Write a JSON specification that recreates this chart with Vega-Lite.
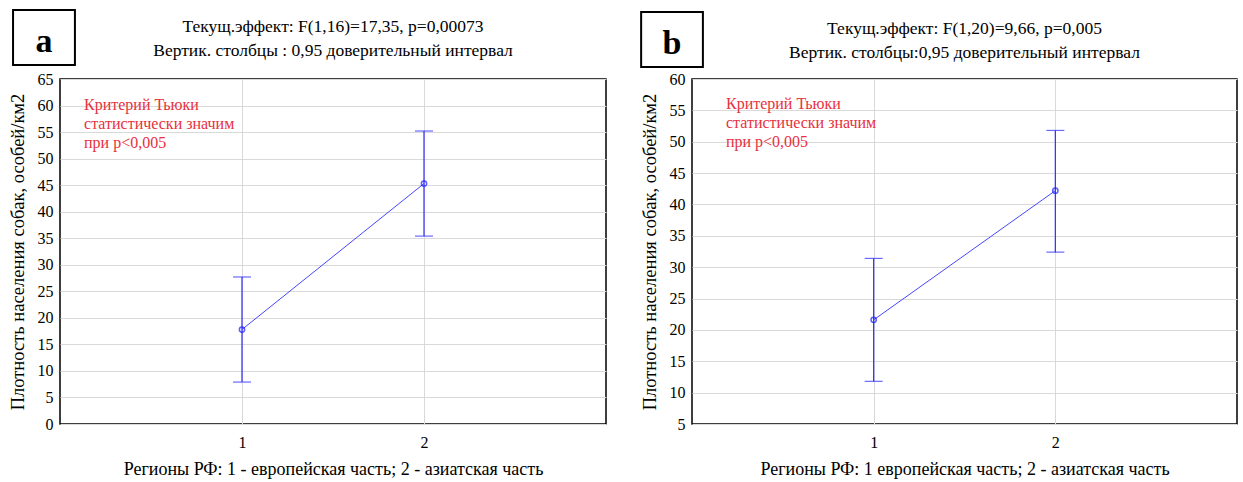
{
  "$schema": "https://vega.github.io/schema/vega-lite/v6.json",
  "autosize": {"type": "pad"},
  "padding": {"left": 7, "top": 8, "right": 5, "bottom": 5},
  "background": "white",
  "spacing": 86,
  "bounds": "flush",
  "config": {
    "font": "Liberation Serif",
    "view": {"stroke": "black", "strokeWidth": 1.5},
    "axis": {
      "labelFont": "Liberation Serif", "labelFontSize": 16, "labelColor": "black",
      "titleFont": "Liberation Serif", "titleFontWeight": "normal", "titleColor": "black",
      "gridColor": "#d9d9d9", "gridWidth": 1, "domain": false, "ticks": false
    },
    "title": {"font": "Liberation Serif", "fontSize": 17.5, "fontWeight": "normal", "color": "black", "lineHeight": 24, "offset": -50, "anchor": "middle", "frame": "group"}
  },
  "datasets": {
    "a": [
      {"region": 1, "mean": 17.8, "lo": 7.9, "hi": 27.7},
      {"region": 2, "mean": 45.3, "lo": 35.4, "hi": 55.2}
    ],
    "b": [
      {"region": 1, "mean": 21.6, "lo": 11.8, "hi": 31.4},
      {"region": 2, "mean": 42.2, "lo": 32.4, "hi": 51.8}
    ],
    "labA": [{"letter": "a", "note": ["Критерий Тьюки", "статистически значим", "при p<0,005"]}],
    "labB": [{"letter": "b", "note": ["Критерий Тьюки", "статистически значим", "при p<0,005"]}]
  },
  "hconcat": [
    {
      "width": 546, "height": 345,
      "title": {"text": ["Текущ.эффект: F(1,16)=17,35, p=0,00073\u2003\u2003\u2003", "Вертик. столбцы : 0,95 доверительный интервал"], "font": "Liberation Serif", "fontSize": 17.5},
      "layer": [
        {
          "data": {"name": "a"},
          "mark": {"type": "line", "color": "#4646ff", "strokeWidth": 1},
          "encoding": {
            "x": {"field": "region", "type": "quantitative", "scale": {"domain": [0, 3], "nice": false}, "title": "Регионы РФ: 1 - европейская часть; 2 - азиатская часть",
              "axis": {"values": [1, 2], "format": "d", "labelPadding": 10, "labelFont": "Liberation Serif", "titleFont": "Liberation Serif", "titleFontSize": 18, "titlePadding": 10}},
            "y": {"field": "mean", "type": "quantitative", "scale": {"domain": [0, 65], "nice": false, "zero": false}, "title": "Плотность населения собак, особей/км2",
              "axis": {"values": [0,5,10,15,20,25,30,35,40,45,50,55,60,65], "labelPadding": 7, "labelFont": "Liberation Serif", "titleFont": "Liberation Serif", "titleFontSize": 18.5, "titlePadding": 10}}
          }
        },
        {
          "data": {"name": "a"},
          "mark": {"type": "rule", "color": "#2a2aff", "strokeWidth": 1.2},
          "encoding": {
            "x": {"field": "region", "type": "quantitative", "title": "Регионы РФ: 1 - европейская часть; 2 - азиатская часть",
              "axis": {"values": [1, 2], "format": "d", "labelPadding": 10, "labelFont": "Liberation Serif", "titleFont": "Liberation Serif", "titleFontSize": 18, "titlePadding": 10}},
            "y": {"field": "lo", "type": "quantitative", "title": "Плотность населения собак, особей/км2",
              "axis": {"values": [0,5,10,15,20,25,30,35,40,45,50,55,60,65], "labelPadding": 7, "labelFont": "Liberation Serif", "titleFont": "Liberation Serif", "titleFontSize": 18.5, "titlePadding": 10}},
            "y2": {"field": "hi"}
          }
        },
        {
          "data": {"name": "a"},
          "mark": {"type": "tick", "orient": "horizontal", "color": "#2a2aff", "size": 18, "thickness": 1.2},
          "encoding": {
            "x": {"field": "region", "type": "quantitative", "title": "Регионы РФ: 1 - европейская часть; 2 - азиатская часть",
              "axis": {"values": [1, 2], "format": "d", "labelPadding": 10, "labelFont": "Liberation Serif", "titleFont": "Liberation Serif", "titleFontSize": 18, "titlePadding": 10}},
            "y": {"field": "lo", "type": "quantitative", "title": "Плотность населения собак, особей/км2",
              "axis": {"values": [0,5,10,15,20,25,30,35,40,45,50,55,60,65], "labelPadding": 7, "labelFont": "Liberation Serif", "titleFont": "Liberation Serif", "titleFontSize": 18.5, "titlePadding": 10}}
          }
        },
        {
          "data": {"name": "a"},
          "mark": {"type": "tick", "orient": "horizontal", "color": "#2a2aff", "size": 18, "thickness": 1.2},
          "encoding": {
            "x": {"field": "region", "type": "quantitative", "title": "Регионы РФ: 1 - европейская часть; 2 - азиатская часть",
              "axis": {"values": [1, 2], "format": "d", "labelPadding": 10, "labelFont": "Liberation Serif", "titleFont": "Liberation Serif", "titleFontSize": 18, "titlePadding": 10}},
            "y": {"field": "hi", "type": "quantitative", "title": "Плотность населения собак, особей/км2",
              "axis": {"values": [0,5,10,15,20,25,30,35,40,45,50,55,60,65], "labelPadding": 7, "labelFont": "Liberation Serif", "titleFont": "Liberation Serif", "titleFontSize": 18.5, "titlePadding": 10}}
          }
        },
        {
          "data": {"name": "a"},
          "mark": {"type": "point", "shape": "circle", "filled": false, "color": "#1a1aff", "size": 28, "strokeWidth": 1.5},
          "encoding": {
            "x": {"field": "region", "type": "quantitative", "title": "Регионы РФ: 1 - европейская часть; 2 - азиатская часть",
              "axis": {"values": [1, 2], "format": "d", "labelPadding": 10, "labelFont": "Liberation Serif", "titleFont": "Liberation Serif", "titleFontSize": 18, "titlePadding": 10}},
            "y": {"field": "mean", "type": "quantitative", "title": "Плотность населения собак, особей/км2",
              "axis": {"values": [0,5,10,15,20,25,30,35,40,45,50,55,60,65], "labelPadding": 7, "labelFont": "Liberation Serif", "titleFont": "Liberation Serif", "titleFontSize": 18.5, "titlePadding": 10}}
          }
        },
        {
          "data": {"name": "labA"},
          "mark": {"type": "text", "align": "left", "baseline": "top", "color": "#e8313c", "font": "Liberation Serif", "fontSize": 16, "lineHeight": 19},
          "encoding": {
            "x": {"datum": 0.132, "type": "quantitative", "title": "Регионы РФ: 1 - европейская часть; 2 - азиатская часть",
              "axis": {"values": [1, 2], "format": "d", "labelPadding": 10, "labelFont": "Liberation Serif", "titleFont": "Liberation Serif", "titleFontSize": 18, "titlePadding": 10}},
            "y": {"datum": 61.6, "type": "quantitative", "title": "Плотность населения собак, особей/км2",
              "axis": {"values": [0,5,10,15,20,25,30,35,40,45,50,55,60,65], "labelPadding": 7, "labelFont": "Liberation Serif", "titleFont": "Liberation Serif", "titleFontSize": 18.5, "titlePadding": 10}},
            "text": {"field": "note"}
          }
        },
        {
          "data": {"name": "labA"},
          "mark": {"type": "rect", "fill": "white", "stroke": "black", "strokeWidth": 2, "clip": false},
          "encoding": {
            "x": {"datum": -0.258, "type": "quantitative", "title": "Регионы РФ: 1 - европейская часть; 2 - азиатская часть",
              "axis": {"values": [1, 2], "format": "d", "labelPadding": 10, "labelFont": "Liberation Serif", "titleFont": "Liberation Serif", "titleFontSize": 18, "titlePadding": 10}},
            "x2": {"datum": 0.082},
            "y": {"datum": 78.0, "type": "quantitative", "title": "Плотность населения собак, особей/км2",
              "axis": {"values": [0,5,10,15,20,25,30,35,40,45,50,55,60,65], "labelPadding": 7, "labelFont": "Liberation Serif", "titleFont": "Liberation Serif", "titleFontSize": 18.5, "titlePadding": 10}},
            "y2": {"datum": 67.64}
          }
        },
        {
          "data": {"name": "labA"},
          "mark": {"type": "text", "align": "center", "baseline": "alphabetic", "color": "black", "font": "Liberation Serif", "fontSize": 34, "fontWeight": "bold"},
          "encoding": {
            "x": {"datum": -0.088, "type": "quantitative", "title": "Регионы РФ: 1 - европейская часть; 2 - азиатская часть",
              "axis": {"values": [1, 2], "format": "d", "labelPadding": 10, "labelFont": "Liberation Serif", "titleFont": "Liberation Serif", "titleFontSize": 18, "titlePadding": 10}},
            "y": {"datum": 70.09, "type": "quantitative", "title": "Плотность населения собак, особей/км2",
              "axis": {"values": [0,5,10,15,20,25,30,35,40,45,50,55,60,65], "labelPadding": 7, "labelFont": "Liberation Serif", "titleFont": "Liberation Serif", "titleFontSize": 18.5, "titlePadding": 10}},
            "text": {"field": "letter"}
          }
        }
      ]
    },
    {
      "width": 545, "height": 345,
      "title": {"text": ["Текущ.эффект: F(1,20)=9,66, p=0,005\u2003\u2003\u2003", "Вертик. столбцы:0,95 доверительный интервал"], "font": "Liberation Serif", "fontSize": 17.5},
      "layer": [
        {
          "data": {"name": "b"},
          "mark": {"type": "line", "color": "#4646ff", "strokeWidth": 1},
          "encoding": {
            "x": {"field": "region", "type": "quantitative", "scale": {"domain": [0, 3], "nice": false}, "title": "Регионы РФ: 1 европейская часть; 2 - азиатская часть",
              "axis": {"values": [1, 2], "format": "d", "labelPadding": 10, "labelFont": "Liberation Serif", "titleFont": "Liberation Serif", "titleFontSize": 18, "titlePadding": 10}},
            "y": {"field": "mean", "type": "quantitative", "scale": {"domain": [5, 60], "nice": false, "zero": false}, "title": "Плотность населения собак, особей/км2",
              "axis": {"values": [5,10,15,20,25,30,35,40,45,50,55,60], "labelPadding": 7, "labelFont": "Liberation Serif", "titleFont": "Liberation Serif", "titleFontSize": 18.5, "titlePadding": 10}}
          }
        },
        {
          "data": {"name": "b"},
          "mark": {"type": "rule", "color": "#2a2aff", "strokeWidth": 1.2},
          "encoding": {
            "x": {"field": "region", "type": "quantitative", "title": "Регионы РФ: 1 европейская часть; 2 - азиатская часть",
              "axis": {"values": [1, 2], "format": "d", "labelPadding": 10, "labelFont": "Liberation Serif", "titleFont": "Liberation Serif", "titleFontSize": 18, "titlePadding": 10}},
            "y": {"field": "lo", "type": "quantitative", "title": "Плотность населения собак, особей/км2",
              "axis": {"values": [5,10,15,20,25,30,35,40,45,50,55,60], "labelPadding": 7, "labelFont": "Liberation Serif", "titleFont": "Liberation Serif", "titleFontSize": 18.5, "titlePadding": 10}},
            "y2": {"field": "hi"}
          }
        },
        {
          "data": {"name": "b"},
          "mark": {"type": "tick", "orient": "horizontal", "color": "#2a2aff", "size": 18, "thickness": 1.2},
          "encoding": {
            "x": {"field": "region", "type": "quantitative", "title": "Регионы РФ: 1 европейская часть; 2 - азиатская часть",
              "axis": {"values": [1, 2], "format": "d", "labelPadding": 10, "labelFont": "Liberation Serif", "titleFont": "Liberation Serif", "titleFontSize": 18, "titlePadding": 10}},
            "y": {"field": "lo", "type": "quantitative", "title": "Плотность населения собак, особей/км2",
              "axis": {"values": [5,10,15,20,25,30,35,40,45,50,55,60], "labelPadding": 7, "labelFont": "Liberation Serif", "titleFont": "Liberation Serif", "titleFontSize": 18.5, "titlePadding": 10}}
          }
        },
        {
          "data": {"name": "b"},
          "mark": {"type": "tick", "orient": "horizontal", "color": "#2a2aff", "size": 18, "thickness": 1.2},
          "encoding": {
            "x": {"field": "region", "type": "quantitative", "title": "Регионы РФ: 1 европейская часть; 2 - азиатская часть",
              "axis": {"values": [1, 2], "format": "d", "labelPadding": 10, "labelFont": "Liberation Serif", "titleFont": "Liberation Serif", "titleFontSize": 18, "titlePadding": 10}},
            "y": {"field": "hi", "type": "quantitative", "title": "Плотность населения собак, особей/км2",
              "axis": {"values": [5,10,15,20,25,30,35,40,45,50,55,60], "labelPadding": 7, "labelFont": "Liberation Serif", "titleFont": "Liberation Serif", "titleFontSize": 18.5, "titlePadding": 10}}
          }
        },
        {
          "data": {"name": "b"},
          "mark": {"type": "point", "shape": "circle", "filled": false, "color": "#1a1aff", "size": 28, "strokeWidth": 1.5},
          "encoding": {
            "x": {"field": "region", "type": "quantitative", "title": "Регионы РФ: 1 европейская часть; 2 - азиатская часть",
              "axis": {"values": [1, 2], "format": "d", "labelPadding": 10, "labelFont": "Liberation Serif", "titleFont": "Liberation Serif", "titleFontSize": 18, "titlePadding": 10}},
            "y": {"field": "mean", "type": "quantitative", "title": "Плотность населения собак, особей/км2",
              "axis": {"values": [5,10,15,20,25,30,35,40,45,50,55,60], "labelPadding": 7, "labelFont": "Liberation Serif", "titleFont": "Liberation Serif", "titleFontSize": 18.5, "titlePadding": 10}}
          }
        },
        {
          "data": {"name": "labB"},
          "mark": {"type": "text", "align": "left", "baseline": "top", "color": "#e8313c", "font": "Liberation Serif", "fontSize": 16, "lineHeight": 19},
          "encoding": {
            "x": {"datum": 0.187, "type": "quantitative", "title": "Регионы РФ: 1 европейская часть; 2 - азиатская часть",
              "axis": {"values": [1, 2], "format": "d", "labelPadding": 10, "labelFont": "Liberation Serif", "titleFont": "Liberation Serif", "titleFontSize": 18, "titlePadding": 10}},
            "y": {"datum": 57.3, "type": "quantitative", "title": "Плотность населения собак, особей/км2",
              "axis": {"values": [5,10,15,20,25,30,35,40,45,50,55,60], "labelPadding": 7, "labelFont": "Liberation Serif", "titleFont": "Liberation Serif", "titleFontSize": 18.5, "titlePadding": 10}},
            "text": {"field": "note"}
          }
        },
        {
          "data": {"name": "labB"},
          "mark": {"type": "rect", "fill": "white", "stroke": "black", "strokeWidth": 2, "clip": false},
          "encoding": {
            "x": {"datum": -0.28, "type": "quantitative", "title": "Регионы РФ: 1 европейская часть; 2 - азиатская часть",
              "axis": {"values": [1, 2], "format": "d", "labelPadding": 10, "labelFont": "Liberation Serif", "titleFont": "Liberation Serif", "titleFontSize": 18, "titlePadding": 10}},
            "x2": {"datum": 0.06},
            "y": {"datum": 70.68, "type": "quantitative", "title": "Плотность населения собак, особей/км2",
              "axis": {"values": [5,10,15,20,25,30,35,40,45,50,55,60], "labelPadding": 7, "labelFont": "Liberation Serif", "titleFont": "Liberation Serif", "titleFontSize": 18.5, "titlePadding": 10}},
            "y2": {"datum": 61.91}
          }
        },
        {
          "data": {"name": "labB"},
          "mark": {"type": "text", "align": "center", "baseline": "alphabetic", "color": "black", "font": "Liberation Serif", "fontSize": 34, "fontWeight": "bold"},
          "encoding": {
            "x": {"datum": -0.11, "type": "quantitative", "title": "Регионы РФ: 1 европейская часть; 2 - азиатская часть",
              "axis": {"values": [1, 2], "format": "d", "labelPadding": 10, "labelFont": "Liberation Serif", "titleFont": "Liberation Serif", "titleFontSize": 18, "titlePadding": 10}},
            "y": {"datum": 63.99, "type": "quantitative", "title": "Плотность населения собак, особей/км2",
              "axis": {"values": [5,10,15,20,25,30,35,40,45,50,55,60], "labelPadding": 7, "labelFont": "Liberation Serif", "titleFont": "Liberation Serif", "titleFontSize": 18.5, "titlePadding": 10}},
            "text": {"field": "letter"}
          }
        }
      ]
    }
  ]
}
